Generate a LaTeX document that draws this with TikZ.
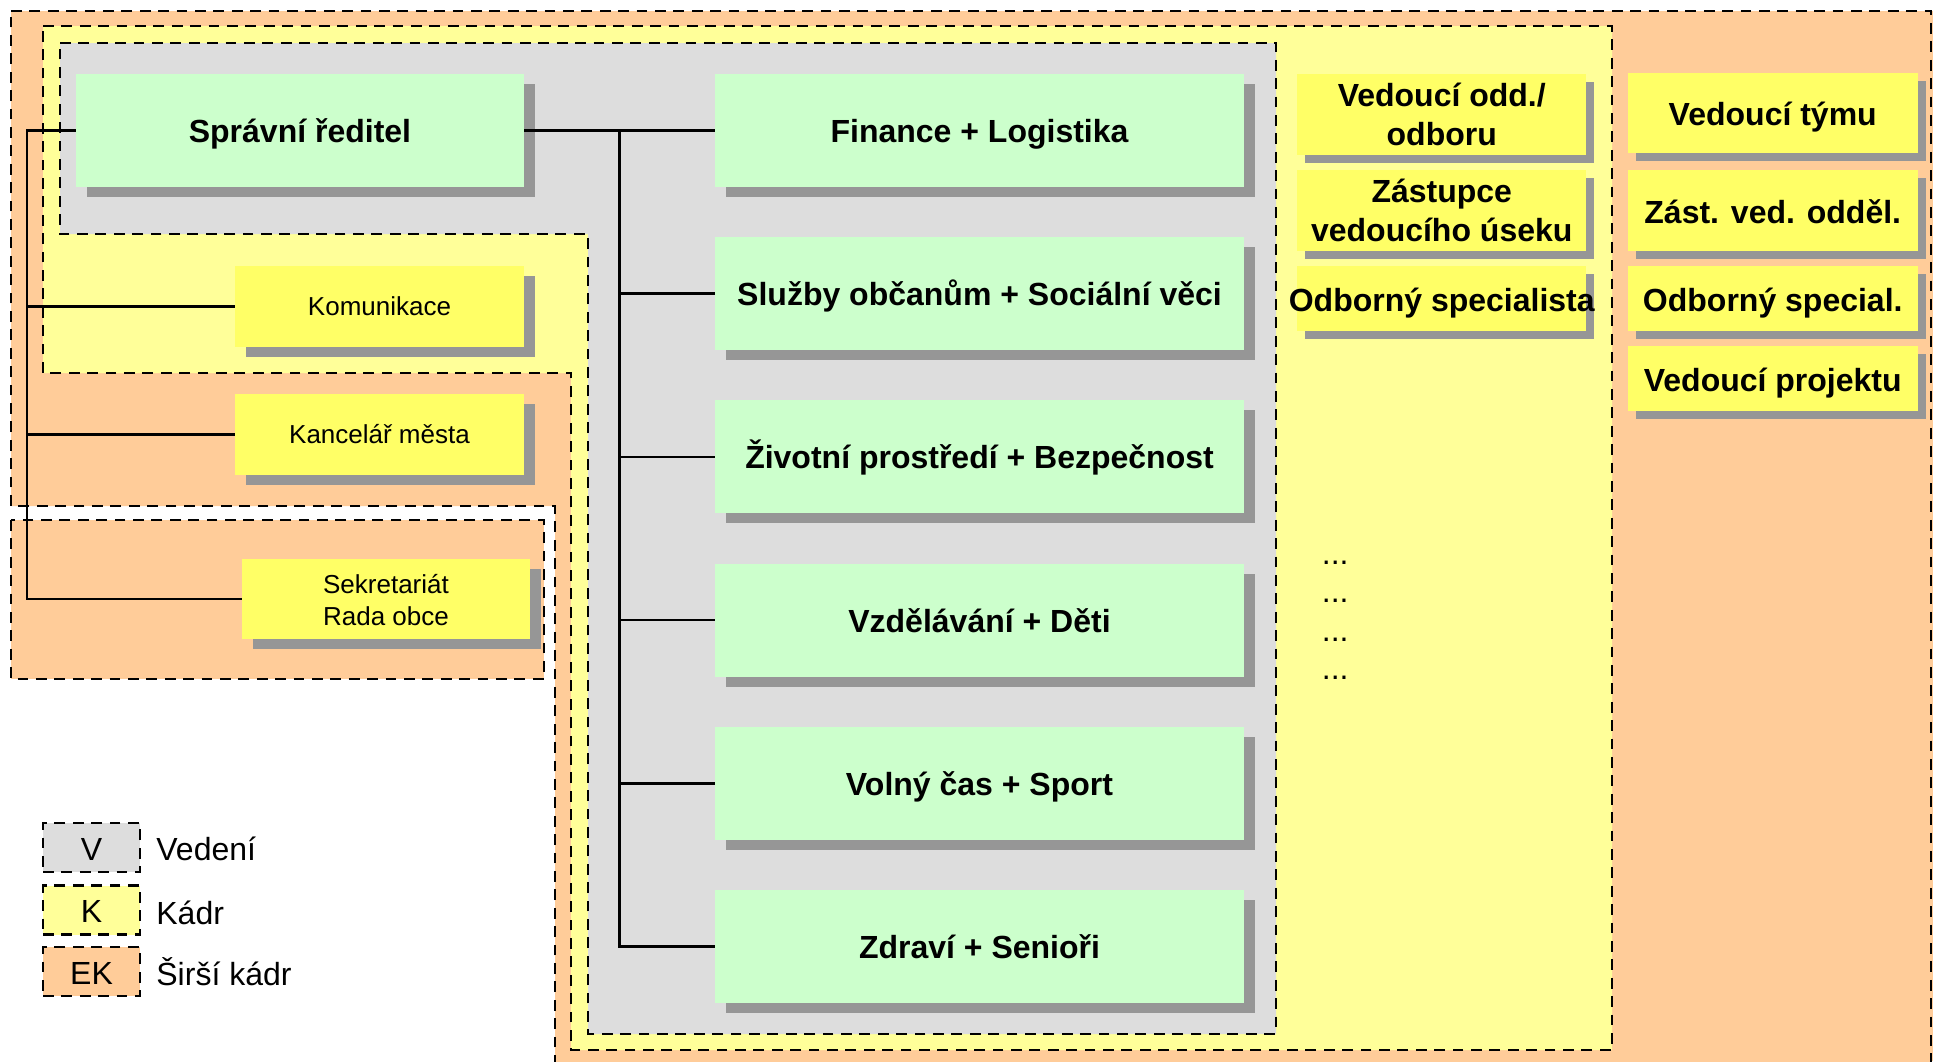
\documentclass[tikz,border=0pt]{standalone}
\usepackage{fontspec}
\setmainfont{Liberation Sans}
\usetikzlibrary{shadows}
\definecolor{vgray}{HTML}{DDDDDD}
\definecolor{kyel}{HTML}{FFFF99}
\definecolor{ekor}{HTML}{FFCC99}
\definecolor{boxgreen}{HTML}{CCFFCC}
\definecolor{boxyel}{HTML}{FFFF66}
\definecolor{shgray}{HTML}{969696}
\tikzset{
  region/.style={draw=black, line width=1.3pt, dash pattern=on 5.4pt off 3.8pt},
  conn/.style={draw=black, line width=1.35pt},
  bigshadow/.style={drop shadow={shadow xshift=5.5pt, shadow yshift=-5pt, fill=shgray, opacity=1}},
  smallshadow/.style={drop shadow={shadow xshift=4pt, shadow yshift=-4pt, fill=shgray, opacity=1}},
  unitbox/.style={rectangle, inner sep=0pt, fill=boxgreen, minimum width=264.5pt, minimum height=56.5pt,
    font=\fontsize{16}{19}\selectfont\bfseries, text height=12pt, text depth=0pt, bigshadow},
  staffbox/.style={rectangle, inner sep=0pt, fill=boxyel, minimum width=144.5pt, minimum height=40.5pt,
    font=\fontsize{13}{16}\selectfont, text height=8.5pt, text depth=0pt, bigshadow},
  rolebox/.style={rectangle, inner sep=0pt, fill=boxyel, minimum width=144.5pt,
    font=\fontsize{16}{19.5}\selectfont\bfseries, text height=12.6pt, text depth=0pt, smallshadow},
  twoline/.style={text height=12pt, text depth=20pt},
  legbox/.style={region, rectangle, inner sep=0pt, minimum width=48.5pt, minimum height=24.5pt,
    font=\fontsize{16}{19}\selectfont, text height=12.5pt, text depth=0pt},
  legtext/.style={anchor=base west, inner sep=0pt, font=\fontsize{16}{19}\selectfont},
  dotstext/.style={anchor=base west, inner sep=0pt, font=\fontsize{16}{19}\selectfont}
}
\begin{document}
\begin{tikzpicture}[x=0.5pt,y=-0.5pt]
\useasboundingbox (0,0) rectangle (1933,1061);
% regions
\begin{scope}
  \clip (0,0) rectangle (1933,1061);
  \fill[ekor] (1931,11) rectangle (1933,1061);
  \path[region, fill=ekor] (11,11) -- (1931,11) -- (1931,1080) -- (555,1080) -- (555,506) -- (11,506) -- cycle;
\end{scope}
\path[region, fill=kyel] (43,26) -- (1612,26) -- (1612,1050) -- (571,1050) -- (571,373) -- (43,373) -- cycle;
\path[region, fill=vgray] (60,43) -- (1276,43) -- (1276,1034) -- (588,1034) -- (588,234) -- (60,234) -- cycle;
\path[region, fill=ekor] (11,520) rectangle (544,679);

% left boxes
\node[unitbox, minimum width=224pt] (spr) at (300,130.5) {Správní ředitel};
\node[staffbox] (kom) at (379.5,306.5) {Komunikace};
\node[staffbox] (kan) at (379.5,434.5) {Kancelář města};
\node[staffbox, minimum width=144pt, minimum height=40pt, text height=10pt, text depth=16pt] (sek) at (386,599)
  {\begin{tabular}[t]{@{}c@{}}Sekretariát\\Rada obce\end{tabular}};

% units
\node[unitbox] (fin) at (979.5,130.5) {Finance + Logistika};
\node[unitbox] (slu) at (979.5,293.7) {Služby občanům + Sociální věci};
\node[unitbox] (ziv) at (979.5,456.9) {Životní prostředí + Bezpečnost};
\node[unitbox] (vzd) at (979.5,620.1) {Vzdělávání + Děti};
\node[unitbox] (vol) at (979.5,783.3) {Volný čas + Sport};
\node[unitbox] (zdr) at (979.5,946.5) {Zdraví + Senioři};

% middle roles
\node[rolebox, twoline, minimum height=40.5pt] (vod) at (1441.75,114.5)
  {\begin{tabular}[t]{@{}c@{}}Vedoucí odd./\\odboru\end{tabular}};
\node[rolebox, twoline, minimum height=40.5pt] (zas) at (1441.75,210.5)
  {\begin{tabular}[t]{@{}c@{}}Zástupce\\vedoucího úseku\end{tabular}};
\node[rolebox, minimum height=32.5pt] (osp) at (1441.75,298.5) {\makebox[0pt][c]{Odborný specialista}};

% right roles
\node[rolebox, minimum width=144.75pt, minimum height=40pt] (vty) at (1772.75,113) {Vedoucí týmu};
\node[rolebox, minimum width=144.75pt, minimum height=40.5pt] (zvo) at (1772.75,210.5) {Zást. ved. odděl.};
\node[rolebox, minimum width=144.75pt, minimum height=32.5pt] (osl) at (1772.75,298.5) {Odborný special.};
\node[rolebox, minimum width=144.75pt, minimum height=32.5pt] (vpr) at (1772.75,378.5) {Vedoucí projektu};

% dots
\node[dotstext] (d1) at (1321.5,564) {...};
\node[dotstext] (d2) at (1321.5,602.5) {...};
\node[dotstext] (d3) at (1321.5,641) {...};
\node[dotstext] (d4) at (1321.5,679.5) {...};

% connectors left
\coordinate (lt) at (27,130.5);
\coordinate (lb) at (27,599);
\draw[conn] (spr.west) -- (lt) -- (lb) -- (sek.west);
\draw[conn] (kom.west) -- (kom.west -| lt);
\draw[conn] (kan.west) -- (kan.west -| lt);

% connectors right
\coordinate (rt) at (619.5,130.5);
\draw[conn] (spr.east) -- (fin.west);
\draw[conn] (rt) -- (rt |- zdr.west) -- (zdr.west);
\draw[conn] (slu.west) -- (slu.west -| rt);
\draw[conn] (ziv.west) -- (ziv.west -| rt);
\draw[conn] (vzd.west) -- (vzd.west -| rt);
\draw[conn] (vol.west) -- (vol.west -| rt);

% legend
\node[legbox, fill=vgray] (lv) at (91.5,847.5) {V};
\node[legbox, fill=kyel] (lk) at (91.5,910) {K};
\node[legbox, fill=ekor] (lek) at (91.5,971.5) {EK};
\node[legtext] (lvt) at (156,860) {Vedení};
\node[legtext] (lkt) at (156,924) {Kádr};
\node[legtext] (lekt) at (156,985) {Širší kádr};
\end{tikzpicture}
\end{document}
